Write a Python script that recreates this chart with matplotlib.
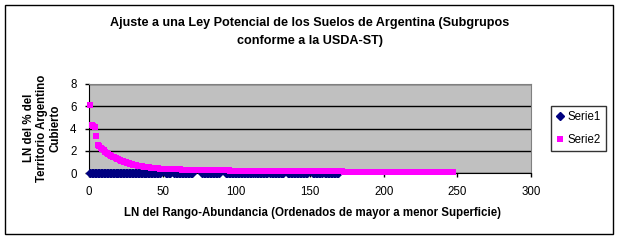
import matplotlib
matplotlib.use('Agg')
import matplotlib.pyplot as plt
from matplotlib.patches import Rectangle

plt.rcParams['font.family'] = ['Liberation Sans', 'DejaVu Sans']

# ============ datos ============
titulo = 'Ajuste a una Ley Potencial de los Suelos de Argentina (Subgrupos\nconforme a la USDA-ST)'
etiqueta_x = 'LN del Rango-Abundancia (Ordenados de mayor a menor Superficie)'
etiqueta_y = 'LN del % del\nTerritorio Argentino\nCubierto'

# Serie1: todos en cero, con algunos huecos
serie1_x = (list(range(1, 49)) + list(range(52, 56)) + list(range(58, 71))
            + list(range(77, 89)) + list(range(93, 112)) + list(range(113, 122))
            + list(range(123, 133)) + list(range(135, 149)) + list(range(152, 159))
            + list(range(160, 170)))
serie1_y = [0.0] * len(serie1_x)

# Serie2, rango 1..247
serie2_y = ([6.14, 4.35, 4.25, 4.15, 3.35, 2.55, 2.45, 2.3, 2.15, 2.05,
             1.95, 1.85, 1.75, 1.65, 1.55, 1.5, 1.45, 1.4, 1.3, 1.25,
             1.18, 1.13, 1.08, 1.02, 0.97, 0.92, 0.88, 0.84, 0.8, 0.77,
             0.74, 0.71, 0.69, 0.67, 0.64, 0.62, 0.6, 0.58, 0.56, 0.54,
             0.52, 0.5, 0.49, 0.47, 0.46, 0.45, 0.43, 0.42, 0.41, 0.4]
            + [0.38] * 6 + [0.36] * 6 + [0.34] * 8 + [0.32] * 12
            + [0.28] * 13 + [0.23] * 18 + [0.17] * 59 + [0.08] * 75)
serie2_x = list(range(1, len(serie2_y) + 1))

x_ticks = [0, 50, 100, 150, 200, 250, 300]
y_ticks = [0, 2, 4, 6, 8]
# =================================

fig = plt.figure(figsize=(6.19, 2.42), dpi=100)
fig.patches.append(Rectangle((0.008, 0.035), 0.983, 0.945, transform=fig.transFigure,
                             fill=False, edgecolor='black', linewidth=1.0))

ax = fig.add_axes([0.1438, 0.2839, 0.714, 0.369])
ax.set_facecolor('#C0C0C0')

ax.plot(serie1_x, serie1_y, linestyle='none', marker='D', markersize=3.6,
        color='#000080', label='Serie1', clip_on=False, zorder=3)
ax.plot(serie2_x, serie2_y, linestyle='none', marker='s', markersize=4.3,
        color='#FF00FF', markeredgewidth=0, label='Serie2', clip_on=False, zorder=4)

ax.set_xlim(0, 300)
ax.set_ylim(0, 8)
ax.set_xticks(x_ticks)
ax.set_yticks(y_ticks)
ax.tick_params(direction='out', length=3, width=1, labelsize=8.3, pad=6)
ax.grid(axis='y', color='black', linewidth=1)
ax.set_axisbelow(True)
for s in ['top', 'right']:
    ax.spines[s].set_color('#808080')
for s in ['left', 'bottom']:
    ax.spines[s].set_color('black')

fig.text(0.501, 0.868, titulo, ha='center', va='center', fontsize=9.1,
         fontweight='bold', linespacing=1.6)
fig.text(0.505, 0.12, etiqueta_x, ha='center', va='center', fontsize=8.3,
         fontweight='bold')
fig.text(0.068, 0.47, etiqueta_y, ha='center', va='center', fontsize=8.3,
         fontweight='bold', rotation=90, linespacing=1.15)

leg = ax.legend(loc='center left', bbox_to_anchor=(1.045, 0.5), fontsize=8.3,
                frameon=True, fancybox=False, edgecolor='black', borderpad=0.45,
                handlelength=0.7, handletextpad=0.3, labelspacing=0.9,
                borderaxespad=0)
leg.get_frame().set_linewidth(1)

fig.savefig('out.png', dpi=100)
